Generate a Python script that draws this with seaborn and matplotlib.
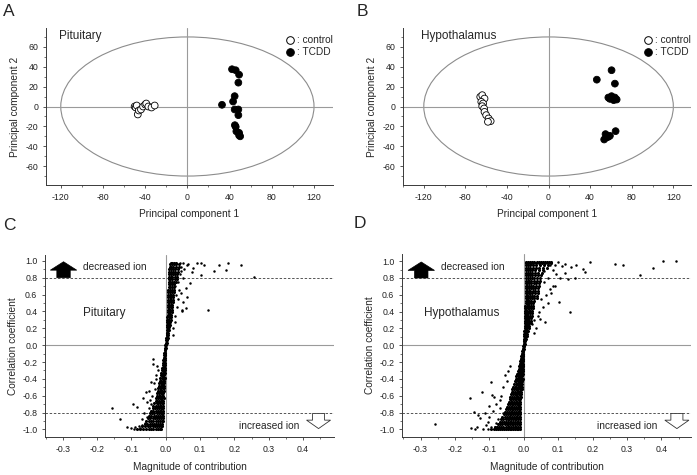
import numpy as np
import pandas as pd
import matplotlib
matplotlib.use("Agg")
import matplotlib.pyplot as plt
import seaborn as sns
from matplotlib.patches import Ellipse
from matplotlib.lines import Line2D
from matplotlib.ticker import MultipleLocator, FormatStrFormatter

# ---------------- data ----------------
# Panel A (Pituitary) PCA scores
a_ctrl_x = [-50, -49, -48, -47, -46, -44, -42, -40, -39, -37, -34, -31]
a_ctrl_y = [0, -1, 1, -8, -4, -3, 0, 2, 3, 0, -1, 1]
a_tcdd_x = [42.3, 45.8, 49, 48.3, 44.8, 43.3, 32.8, 44.8, 48.3, 48.3, 45, 45.8, 46.4, 49, 49, 50]
a_tcdd_y = [37.5, 36.5, 32, 24, 10.4, 5, 1.7, -3, -3, -8.7, -18.8, -20.4, -25, -26.5, -29, -30]

# Panel B (Hypothalamus) PCA scores
b_ctrl_x = [-65.7, -63.8, -61.6, -64.7, -63, -63.8, -62, -61.6, -60, -57.7, -55.7, -58.3]
b_ctrl_y = [9.7, 11.4, 8, 4.7, 3, 0.3, -2, -5.4, -8.7, -12, -14.7, -15.4]
b_tcdd_x = [60.6, 46.4, 63.8, 57.5, 60.6, 63.8, 65.5, 62.6, 59, 64.5, 54.8, 57.5, 59, 53.5, 55.7]
b_tcdd_y = [36.5, 27, 23, 9, 10.4, 9, 7, 6.4, 7.7, -24.8, -27.8, -30.5, -29.5, -33.2, -31.2]

# Panel C (Pituitary) S-plot: dense core rows (correlation, [contributions])
c_rows = [
    (-0.99, [-0.085, -0.075, -0.066, -0.058, -0.05, -0.043, -0.036, -0.03, -0.024, -0.018, -0.013]),
    (-0.96, [-0.07, -0.06, -0.052, -0.045, -0.038, -0.032, -0.026, -0.02, -0.014, -0.01]),
    (-0.93, [-0.062, -0.054, -0.046, -0.04, -0.034, -0.028, -0.022, -0.016, -0.01]),
    (-0.90, [-0.058, -0.05, -0.043, -0.036, -0.03, -0.024, -0.018, -0.012, -0.008]),
    (-0.87, [-0.052, -0.045, -0.038, -0.032, -0.026, -0.02, -0.014, -0.009]),
    (-0.84, [-0.05, -0.042, -0.035, -0.029, -0.023, -0.017, -0.012, -0.008]),
    (-0.81, [-0.047, -0.04, -0.033, -0.027, -0.021, -0.015, -0.01, -0.007]),
    (-0.78, [-0.043, -0.036, -0.03, -0.024, -0.018, -0.013, -0.009]),
    (-0.75, [-0.038, -0.032, -0.026, -0.02, -0.015, -0.011, -0.007]),
    (-0.72, [-0.036, -0.03, -0.024, -0.018, -0.013, -0.009]),
    (-0.69, [-0.033, -0.027, -0.022, -0.017, -0.012, -0.008]),
    (-0.66, [-0.03, -0.025, -0.02, -0.015, -0.011, -0.007]),
    (-0.63, [-0.028, -0.023, -0.018, -0.014, -0.01, -0.006]),
    (-0.60, [-0.027, -0.021, -0.016, -0.012, -0.008]),
    (-0.57, [-0.025, -0.02, -0.015, -0.011, -0.007]),
    (-0.54, [-0.024, -0.018, -0.014, -0.01, -0.006]),
    (-0.51, [-0.022, -0.017, -0.013, -0.009, -0.006]),
    (-0.48, [-0.02, -0.015, -0.011, -0.008, -0.005]),
    (-0.45, [-0.019, -0.014, -0.01, -0.007, -0.004]),
    (-0.42, [-0.017, -0.013, -0.009, -0.006, -0.004]),
    (-0.39, [-0.016, -0.012, -0.008, -0.005, -0.003]),
    (-0.36, [-0.014, -0.01, -0.007, -0.004]),
    (-0.33, [-0.013, -0.009, -0.006, -0.003]),
    (-0.30, [-0.012, -0.008, -0.005, -0.003]),
    (-0.27, [-0.011, -0.007, -0.004, -0.002]),
    (-0.24, [-0.009, -0.006, -0.003]),
    (-0.21, [-0.008, -0.005, -0.003]),
    (-0.18, [-0.007, -0.004, -0.002]),
    (-0.15, [-0.006, -0.004, -0.002]),
    (-0.12, [-0.005, -0.003, -0.001]),
    (-0.09, [-0.004, -0.002, -0.001]),
    (-0.06, [-0.003, -0.001]),
    (-0.03, [-0.002, 0.0]),
    (0.00, [-0.001, 0.001]),
    (0.03, [0.0, 0.002]),
    (0.06, [0.001, 0.003]),
    (0.09, [0.001, 0.003, 0.005]),
    (0.12, [0.002, 0.004, 0.006]),
    (0.15, [0.002, 0.004, 0.007]),
    (0.18, [0.003, 0.005, 0.008]),
    (0.21, [0.003, 0.006, 0.009]),
    (0.24, [0.003, 0.006, 0.009, 0.012]),
    (0.27, [0.004, 0.007, 0.01, 0.013]),
    (0.30, [0.004, 0.007, 0.01, 0.014]),
    (0.33, [0.004, 0.008, 0.011, 0.015]),
    (0.36, [0.005, 0.008, 0.012, 0.016]),
    (0.39, [0.005, 0.009, 0.013, 0.017]),
    (0.42, [0.005, 0.009, 0.013, 0.018]),
    (0.45, [0.006, 0.01, 0.014, 0.019]),
    (0.48, [0.006, 0.01, 0.014, 0.019]),
    (0.51, [0.006, 0.01, 0.015, 0.02]),
    (0.54, [0.006, 0.011, 0.015, 0.021]),
    (0.57, [0.007, 0.011, 0.016, 0.022]),
    (0.60, [0.007, 0.011, 0.016, 0.022]),
    (0.63, [0.007, 0.012, 0.017, 0.023]),
    (0.66, [0.007, 0.012, 0.017, 0.024]),
    (0.69, [0.008, 0.012, 0.017, 0.024]),
    (0.72, [0.008, 0.013, 0.018, 0.025]),
    (0.75, [0.008, 0.013, 0.018, 0.025, 0.031]),
    (0.78, [0.008, 0.013, 0.019, 0.026, 0.032]),
    (0.81, [0.009, 0.014, 0.019, 0.026, 0.033]),
    (0.84, [0.009, 0.014, 0.02, 0.027, 0.034]),
    (0.87, [0.01, 0.015, 0.02, 0.027, 0.035]),
    (0.90, [0.01, 0.015, 0.021, 0.028, 0.036]),
    (0.93, [0.011, 0.016, 0.022, 0.029, 0.037]),
    (0.96, [0.012, 0.017, 0.023, 0.03, 0.038]),
    (0.98, [0.014, 0.019, 0.024, 0.03]),
]
c_out_x = [0.103, 0.110, 0.156, 0.182, 0.220, 0.141, 0.176, 0.103, 0.256, 0.071, 0.124, 0.080,
           0.061, 0.051, 0.044, 0.058, 0.061, 0.051, 0.047, 0.044, 0.059, 0.047, 0.036, 0.040,
           0.045, 0.052, 0.030, 0.033, 0.028, 0.035, 0.028, 0.065, 0.075, 0.090, 0.040, 0.050,
           0.038, 0.026, 0.022, 0.020,
           -0.158, -0.133, -0.112, -0.096, -0.084, -0.089, -0.067, -0.059, -0.048, -0.038,
           -0.036, -0.044, -0.055, -0.070, -0.075, -0.078, -0.100, -0.065, -0.060, -0.050,
           -0.040, -0.035, -0.030, -0.025, -0.045, -0.055, -0.068, -0.092, -0.032, -0.028,
           -0.022, -0.042]
c_out_y = [0.97, 0.95, 0.95, 0.97, 0.95, 0.88, 0.89, 0.83, 0.81, 0.735, 0.415, 0.91,
           0.95, 0.97, 0.93, 0.68, 0.57, 0.51, 0.415, 0.62, 0.44, 0.40, 0.75, 0.85,
           0.88, 0.90, 0.60, 0.45, 0.35, 0.55, 0.70, 0.96, 0.87, 0.98, 0.98, 0.80,
           0.66, 0.28, 0.20, 0.12,
           -0.74, -0.88, -0.97, -0.70, -0.73, -0.97, -0.63, -0.55, -0.54, -0.16,
           -0.22, -0.44, -0.67, -0.88, -0.98, -0.96, -0.98, -0.80, -0.92, -0.75,
           -0.60, -0.45, -0.35, -0.25, -0.65, -0.85, -0.95, -0.99, -0.52, -0.40,
           -0.30, -0.70]

# Panel D (Hypothalamus) S-plot core rows
d_rows = [
    (-0.995, [-0.095, -0.088, -0.081, -0.075, -0.069, -0.063, -0.057, -0.051, -0.046, -0.041, -0.036, -0.031, -0.026, -0.021, -0.016, -0.012]),
    (-0.97, [-0.085, -0.078, -0.071, -0.065, -0.059, -0.053, -0.047, -0.042, -0.037, -0.032, -0.027, -0.022, -0.017, -0.012]),
    (-0.94, [-0.075, -0.068, -0.062, -0.056, -0.05, -0.045, -0.04, -0.035, -0.03, -0.025, -0.02, -0.015, -0.011]),
    (-0.91, [-0.07, -0.063, -0.057, -0.051, -0.046, -0.041, -0.036, -0.031, -0.026, -0.021, -0.016, -0.011]),
    (-0.88, [-0.066, -0.059, -0.053, -0.047, -0.042, -0.037, -0.032, -0.027, -0.022, -0.017, -0.012]),
    (-0.85, [-0.062, -0.055, -0.049, -0.044, -0.039, -0.034, -0.029, -0.024, -0.019, -0.014, -0.011]),
    (-0.82, [-0.058, -0.052, -0.046, -0.041, -0.036, -0.031, -0.026, -0.021, -0.016, -0.011]),
    (-0.79, [-0.055, -0.049, -0.043, -0.038, -0.033, -0.028, -0.023, -0.018, -0.013, -0.01]),
    (-0.76, [-0.052, -0.046, -0.04, -0.035, -0.03, -0.025, -0.02, -0.015, -0.011]),
    (-0.73, [-0.049, -0.043, -0.038, -0.033, -0.028, -0.023, -0.018, -0.014, -0.01]),
    (-0.70, [-0.046, -0.04, -0.035, -0.03, -0.025, -0.021, -0.017, -0.013, -0.01]),
    (-0.67, [-0.043, -0.038, -0.033, -0.028, -0.023, -0.019, -0.015, -0.011]),
    (-0.64, [-0.041, -0.036, -0.031, -0.026, -0.022, -0.018, -0.014, -0.01]),
    (-0.61, [-0.039, -0.034, -0.029, -0.024, -0.02, -0.016, -0.012, -0.009]),
    (-0.58, [-0.037, -0.032, -0.027, -0.023, -0.019, -0.015, -0.011, -0.008]),
    (-0.55, [-0.035, -0.03, -0.025, -0.021, -0.017, -0.013, -0.01, -0.007]),
    (-0.52, [-0.033, -0.028, -0.024, -0.02, -0.016, -0.012, -0.009, -0.006]),
    (-0.49, [-0.031, -0.026, -0.022, -0.018, -0.014, -0.011, -0.008, -0.005]),
    (-0.46, [-0.029, -0.024, -0.02, -0.016, -0.013, -0.01, -0.007, -0.005]),
    (-0.43, [-0.026, -0.022, -0.018, -0.015, -0.012, -0.009, -0.006, -0.004]),
    (-0.40, [-0.024, -0.02, -0.016, -0.013, -0.01, -0.008, -0.005, -0.003]),
    (-0.37, [-0.022, -0.018, -0.015, -0.012, -0.009, -0.007, -0.004]),
    (-0.34, [-0.02, -0.016, -0.013, -0.01, -0.008, -0.006, -0.003]),
    (-0.31, [-0.017, -0.014, -0.011, -0.009, -0.007, -0.005, -0.003]),
    (-0.28, [-0.015, -0.012, -0.01, -0.008, -0.006, -0.004, -0.002]),
    (-0.25, [-0.013, -0.011, -0.009, -0.007, -0.005, -0.003, -0.002]),
    (-0.22, [-0.012, -0.01, -0.008, -0.006, -0.004, -0.002]),
    (-0.19, [-0.01, -0.008, -0.006, -0.004, -0.002]),
    (-0.16, [-0.009, -0.007, -0.005, -0.003, -0.001]),
    (-0.13, [-0.008, -0.006, -0.004, -0.002, -0.001]),
    (-0.10, [-0.006, -0.004, -0.003, -0.001]),
    (-0.07, [-0.005, -0.003, -0.002, -0.001]),
    (-0.04, [-0.003, -0.002, 0.0]),
    (-0.01, [-0.002, 0.0, 0.001]),
    (0.02, [0.0, 0.001, 0.003]),
    (0.05, [0.001, 0.002, 0.004]),
    (0.08, [0.001, 0.003, 0.005]),
    (0.11, [0.002, 0.004, 0.006, 0.008]),
    (0.14, [0.002, 0.004, 0.006, 0.009]),
    (0.17, [0.002, 0.004, 0.007, 0.01, 0.013]),
    (0.20, [0.003, 0.005, 0.007, 0.01, 0.014]),
    (0.23, [0.003, 0.005, 0.008, 0.011, 0.015]),
    (0.26, [0.003, 0.005, 0.008, 0.011, 0.015, 0.02]),
    (0.29, [0.003, 0.006, 0.009, 0.012, 0.016, 0.021]),
    (0.32, [0.004, 0.006, 0.009, 0.012, 0.016, 0.022]),
    (0.35, [0.004, 0.006, 0.009, 0.013, 0.017, 0.023]),
    (0.38, [0.004, 0.007, 0.01, 0.013, 0.018, 0.024]),
    (0.41, [0.004, 0.007, 0.01, 0.014, 0.019, 0.025]),
    (0.44, [0.004, 0.007, 0.011, 0.015, 0.02, 0.026]),
    (0.47, [0.004, 0.008, 0.011, 0.015, 0.02, 0.027]),
    (0.50, [0.005, 0.008, 0.012, 0.016, 0.021, 0.028]),
    (0.53, [0.005, 0.008, 0.012, 0.016, 0.022, 0.029]),
    (0.56, [0.005, 0.009, 0.013, 0.017, 0.023, 0.03, 0.038]),
    (0.59, [0.005, 0.009, 0.013, 0.018, 0.024, 0.031, 0.039]),
    (0.62, [0.005, 0.009, 0.014, 0.019, 0.025, 0.032, 0.04]),
    (0.65, [0.005, 0.009, 0.014, 0.019, 0.026, 0.033, 0.041]),
    (0.68, [0.005, 0.01, 0.015, 0.02, 0.027, 0.034, 0.042]),
    (0.71, [0.005, 0.01, 0.015, 0.021, 0.028, 0.035, 0.043]),
    (0.74, [0.005, 0.01, 0.016, 0.022, 0.029, 0.036, 0.044]),
    (0.77, [0.006, 0.011, 0.016, 0.022, 0.03, 0.038, 0.046]),
    (0.80, [0.006, 0.011, 0.017, 0.023, 0.031, 0.039, 0.048]),
    (0.83, [0.006, 0.011, 0.017, 0.024, 0.032, 0.04, 0.05]),
    (0.86, [0.006, 0.012, 0.018, 0.025, 0.033, 0.042, 0.052]),
    (0.89, [0.006, 0.012, 0.018, 0.025, 0.034, 0.044, 0.055]),
    (0.92, [0.006, 0.012, 0.019, 0.026, 0.035, 0.045, 0.057, 0.068]),
    (0.95, [0.007, 0.013, 0.019, 0.027, 0.036, 0.046, 0.058, 0.07]),
    (0.975, [0.007, 0.013, 0.02, 0.027, 0.035, 0.043, 0.052, 0.061, 0.07, 0.078]),
    (0.995, [0.007, 0.013, 0.019, 0.025, 0.031, 0.037, 0.043, 0.049, 0.055, 0.061, 0.067, 0.073, 0.079]),
]
d_out_x = [0.443, 0.404, 0.376, 0.337, 0.289, 0.264, 0.192, 0.172, 0.177, 0.119, 0.090, 0.153,
           0.148, 0.128, 0.101, 0.134, 0.061, 0.030, 0.046, 0.075, 0.085, 0.138, 0.100, 0.110,
           0.095, 0.085, 0.070, 0.065, 0.060, 0.055, 0.050, 0.045, 0.040, 0.080, 0.070, 0.060,
           0.105, 0.120, 0.090, 0.075, 0.035, 0.030, 0.025,
           -0.258, -0.155, -0.122, -0.094, -0.093, -0.087, -0.056, -0.145, -0.133, -0.128,
           -0.114, -0.143, -0.153, -0.135, -0.104, -0.085, -0.070, -0.120, -0.110, -0.100,
           -0.090, -0.080, -0.075, -0.065, -0.060, -0.050, -0.045, -0.040, -0.070, -0.080,
           -0.095, -0.105, -0.060, -0.100]
d_out_y = [0.996, 1.0, 0.917, 0.838, 0.957, 0.972, 0.988, 0.909, 0.877, 0.968, 0.957, 0.957,
           0.798, 0.79, 0.52, 0.40, 0.277, 0.30, 0.316, 0.672, 0.71, 0.93, 0.99, 0.94,
           0.85, 0.90, 0.80, 0.60, 0.75, 0.45, 0.55, 0.40, 0.35, 0.62, 0.50, 0.88,
           0.80, 0.86, 0.70, 0.95, 0.20, 0.15, 0.25,
           -0.941, -0.624, -0.553, -0.435, -0.593, -0.613, -0.356, -0.79, -0.83, -0.87,
           -0.81, -0.996, -0.988, -0.968, -0.909, -0.968, -0.75, -0.99, -0.95, -0.85,
           -0.78, -0.70, -0.88, -0.60, -0.50, -0.42, -0.30, -0.25, -0.65, -0.92,
           -0.97, -0.99, -0.80, -0.72]

pca_xticks = [-120, -80, -40, 0, 40, 80, 120]
pca_yticks = [-60, -40, -20, 0, 20, 40, 60]
s_xticks = [-0.3, -0.2, -0.1, 0.0, 0.1, 0.2, 0.3, 0.4]
s_yticks = [-1.0, -0.8, -0.6, -0.4, -0.2, 0.0, 0.2, 0.4, 0.6, 0.8, 1.0]

# ---------------- style ----------------
sns.set_style("ticks")
plt.rcParams['font.family'] = ['Liberation Sans', 'DejaVu Sans']
plt.rcParams['axes.unicode_minus'] = False

SPINE = '#3a3a3a'
GRAY = '#9a9a9a'
TICK_FS = 6.3
LABEL_FS = 7.3

fig = plt.figure(figsize=(6.97, 4.75), dpi=100)
W, H = 697.0, 475.0


def add_ax(l, r, t, b):
    return fig.add_axes([l / W, 1 - b / H, (r - l) / W, (b - t) / H])


def style_axes(ax):
    for s in ['top', 'right']:
        ax.spines[s].set_visible(False)
    for s in ['left', 'bottom']:
        ax.spines[s].set_color(SPINE)
        ax.spines[s].set_linewidth(0.7)
    ax.tick_params(which='major', labelsize=TICK_FS, length=2.5, width=0.6,
                   color=SPINE, pad=3, labelcolor='#222222')
    ax.tick_params(which='minor', length=1.5, width=0.5, color=SPINE)


def pca_panel(ax, cx, cy, tx, ty, name, name_x, xlim):
    ax.add_patch(Ellipse((0, 0), 240, 140, fill=False, ec='#8c8c8c', lw=0.8, zorder=1))
    ax.axhline(0, color=GRAY, lw=0.8, zorder=1)
    ax.axvline(0, color=GRAY, lw=0.8, zorder=1)
    df = pd.DataFrame({'x': list(cx) + list(tx), 'y': list(cy) + list(ty),
                       'group': ['control'] * len(cx) + ['TCDD'] * len(tx)})
    sns.scatterplot(data=df, x='x', y='y', hue='group',
                    palette={'control': 'white', 'TCDD': 'black'},
                    edgecolor='black', linewidth=0.6, s=24, legend=False, ax=ax, zorder=3)
    ax.set_xlim(*xlim)
    ax.set_ylim(-79, 79)
    ax.set_xticks(pca_xticks)
    ax.set_yticks(pca_yticks)
    ax.xaxis.set_minor_locator(MultipleLocator(20))
    ax.yaxis.set_minor_locator(MultipleLocator(10))
    ax.set_xlabel('Principal component 1', fontsize=LABEL_FS, labelpad=5)
    ax.set_ylabel('Principal component 2', fontsize=LABEL_FS, labelpad=4)
    style_axes(ax)
    ax.text(name_x, 71, name, fontsize=8.5, va='center', ha='left')
    handles = [Line2D([], [], marker='o', ls='', mfc='white', mec='black', mew=0.7, ms=5.5, label=': control'),
               Line2D([], [], marker='o', ls='', mfc='black', mec='black', mew=0.7, ms=5.5, label=': TCDD')]
    ax.legend(handles=handles, loc='upper right', bbox_to_anchor=(1.0, 0.955), frameon=False,
              fontsize=7.3, handlelength=0.8, handletextpad=0.3, borderpad=0,
              labelspacing=0.2, borderaxespad=0)


def s_panel(ax, rows, ox, oy, name, name_x, xlim, ylim):
    core_x = [x for y, xs in rows for x in xs]
    core_y = [y for y, xs in rows for _ in xs]
    ax.axhline(0, color=GRAY, lw=0.8, zorder=1)
    ax.axvline(0, color=GRAY, lw=0.8, zorder=1)
    ax.axhline(0.8, color='#555555', lw=0.7, ls=(0, (2.5, 1.8)), zorder=1)
    ax.axhline(-0.8, color='#555555', lw=0.7, ls=(0, (2.5, 1.8)), zorder=1)
    sns.scatterplot(x=core_x, y=core_y, s=5, color='black', linewidth=0, ax=ax, zorder=3)
    sns.scatterplot(x=ox, y=oy, s=3.2, color='black', linewidth=0, ax=ax, zorder=3)
    ax.arrow(-0.298, 0.80, 0, 0.19, width=0.039, head_width=0.077, head_length=0.10,
             length_includes_head=True, fc='black', ec='black', lw=0.5, zorder=4)
    ax.arrow(0.445, -0.81, 0, -0.18, width=0.035, head_width=0.07, head_length=0.10,
             length_includes_head=True, fc='white', ec='#333333', lw=0.6, zorder=4)
    ax.text(-0.242, 0.93, 'decreased ion', fontsize=7.3, va='center', ha='left')
    ax.text(0.389, -0.955, 'increased ion', fontsize=7.3, va='center', ha='right')
    ax.text(name_x, 0.38, name, fontsize=8.5, va='center', ha='left')
    ax.set_xlim(*xlim)
    ax.set_ylim(*ylim)
    ax.set_xticks(s_xticks)
    ax.set_yticks(s_yticks)
    ax.xaxis.set_major_formatter(FormatStrFormatter('%.1f'))
    ax.yaxis.set_major_formatter(FormatStrFormatter('%.1f'))
    ax.xaxis.set_minor_locator(MultipleLocator(0.05))
    ax.yaxis.set_minor_locator(MultipleLocator(0.1))
    ax.set_xlabel('Magnitude of contribution', fontsize=LABEL_FS, labelpad=6)
    ax.set_ylabel('Correlation coefficient', fontsize=LABEL_FS, labelpad=3)
    style_axes(ax)


axA = add_ax(46, 333, 28, 185)
axB = add_ax(403, 691, 28, 185)
axC = add_ax(45, 334, 255, 437)
axD = add_ax(402, 691, 254, 437)

pca_panel(axA, a_ctrl_x, a_ctrl_y, a_tcdd_x, a_tcdd_y, 'Pituitary', -122, (-134, 138))
pca_panel(axB, b_ctrl_x, b_ctrl_y, b_tcdd_x, b_tcdd_y, 'Hypothalamus', -123, (-140, 137))
s_panel(axC, c_rows, c_out_x, c_out_y, 'Pituitary', -0.242, (-0.352, 0.49), (-1.09, 1.07))
s_panel(axD, d_rows, d_out_x, d_out_y, 'Hypothalamus', -0.29, (-0.354, 0.486), (-1.09, 1.085))

for lab, x, y in [('A', 3, 4), ('B', 357, 4), ('C', 3, 218), ('D', 354, 216)]:
    fig.text(x / W, 1 - y / H, lab, fontsize=12.5, va='top', ha='left')

fig.savefig('out.png', dpi=100)
